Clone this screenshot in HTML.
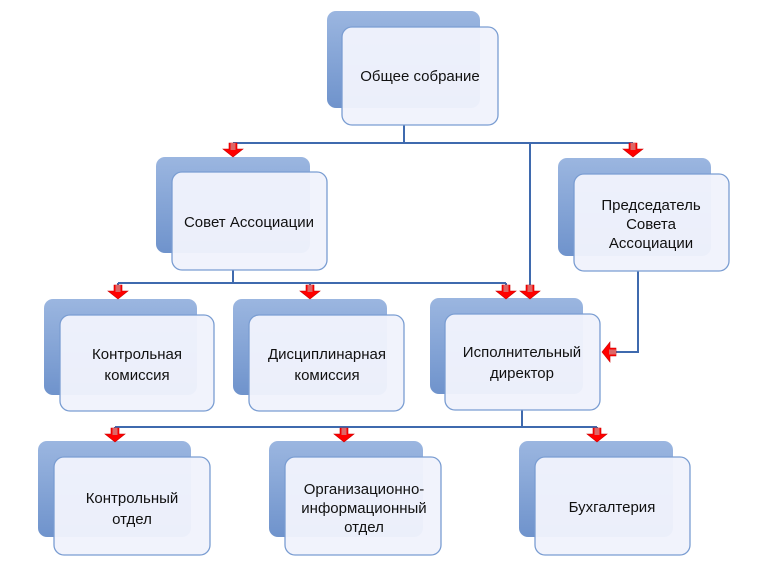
<!DOCTYPE html>
<html><head><meta charset="utf-8"><style>
body{margin:0;background:#fff;}
svg{display:block}
text{font-family:"Liberation Sans",sans-serif;font-size:15px;fill:#111;text-anchor:middle}
</style></head><body>
<svg width="768" height="574" viewBox="0 0 768 574" xmlns="http://www.w3.org/2000/svg">
<defs>
<linearGradient id="bg" x1="0" y1="0" x2="0" y2="1">
<stop offset="0" stop-color="#9bb6e0"/><stop offset="1" stop-color="#6f93cc"/>
</linearGradient>
<g id="arr"><polygon points="-4,0 4,0 4,6 10,6 0,14 -10,6 -4,6" fill="#f00" stroke="#c00" stroke-width="0.6"/><rect x="-2.5" y="0" width="5" height="7" fill="#d66"/></g>
</defs>
<g stroke="#3f6aae" stroke-width="2" fill="none">
<path d="M404 125V143M233 143H633M233 143V150M633 143V150M530 143V288"/>
<path d="M233 270V283M118 283H506M118 283V290M310 283V290M506 283V290"/>
<path d="M638 271V352H614"/>
<path d="M522 409V427M115 427H597M115 427V432M344 427V432M597 427V432"/>
</g>
<g>
<g><rect x="327" y="11" width="153" height="97" rx="9" fill="url(#bg)"/><rect x="342" y="27" width="156" height="98" rx="10" fill="#f0f3fc" fill-opacity="0.96" stroke="#7a9dd2" stroke-width="1.3"/><text x="420" y="81">Общее собрание</text></g>
<g><rect x="156" y="157" width="154" height="96" rx="9" fill="url(#bg)"/><rect x="172" y="172" width="155" height="98" rx="10" fill="#f0f3fc" fill-opacity="0.96" stroke="#7a9dd2" stroke-width="1.3"/><text x="249" y="227">Совет Ассоциации</text></g>
<g><rect x="558" y="158" width="153" height="98" rx="9" fill="url(#bg)"/><rect x="574" y="174" width="155" height="97" rx="10" fill="#f0f3fc" fill-opacity="0.96" stroke="#7a9dd2" stroke-width="1.3"/><text x="651" y="210">Председатель</text><text x="651" y="229">Совета</text><text x="651" y="248">Ассоциации</text></g>
<g><rect x="44" y="299" width="153" height="96" rx="9" fill="url(#bg)"/><rect x="60" y="315" width="154" height="96" rx="10" fill="#f0f3fc" fill-opacity="0.96" stroke="#7a9dd2" stroke-width="1.3"/><text x="137" y="359">Контрольная</text><text x="137" y="380">комиссия</text></g>
<g><rect x="233" y="299" width="154" height="96" rx="9" fill="url(#bg)"/><rect x="249" y="315" width="155" height="96" rx="10" fill="#f0f3fc" fill-opacity="0.96" stroke="#7a9dd2" stroke-width="1.3"/><text x="327" y="359">Дисциплинарная</text><text x="327" y="380">комиссия</text></g>
<g><rect x="430" y="298" width="153" height="96" rx="9" fill="url(#bg)"/><rect x="445" y="314" width="155" height="96" rx="10" fill="#f0f3fc" fill-opacity="0.96" stroke="#7a9dd2" stroke-width="1.3"/><text x="522" y="357">Исполнительный</text><text x="522" y="378">директор</text></g>
<g><rect x="38" y="441" width="153" height="96" rx="9" fill="url(#bg)"/><rect x="54" y="457" width="156" height="98" rx="10" fill="#f0f3fc" fill-opacity="0.96" stroke="#7a9dd2" stroke-width="1.3"/><text x="132" y="503">Контрольный</text><text x="132" y="524">отдел</text></g>
<g><rect x="269" y="441" width="154" height="96" rx="9" fill="url(#bg)"/><rect x="285" y="457" width="156" height="98" rx="10" fill="#f0f3fc" fill-opacity="0.96" stroke="#7a9dd2" stroke-width="1.3"/><text x="364" y="494">Организационно-</text><text x="364" y="513">информационный</text><text x="364" y="532">отдел</text></g>
<g><rect x="519" y="441" width="154" height="96" rx="9" fill="url(#bg)"/><rect x="535" y="457" width="155" height="98" rx="10" fill="#f0f3fc" fill-opacity="0.96" stroke="#7a9dd2" stroke-width="1.3"/><text x="612" y="512">Бухгалтерия</text></g>
</g>
<use href="#arr" x="233" y="143"/>
<use href="#arr" x="633" y="143"/>
<use href="#arr" x="118" y="285"/>
<use href="#arr" x="310" y="285"/>
<use href="#arr" x="506" y="285"/>
<use href="#arr" x="530" y="285"/>
<use href="#arr" x="115" y="428"/>
<use href="#arr" x="344" y="428"/>
<use href="#arr" x="597" y="428"/>
<use href="#arr" transform="translate(616,352) rotate(90)"/>
</svg>
</body></html>
